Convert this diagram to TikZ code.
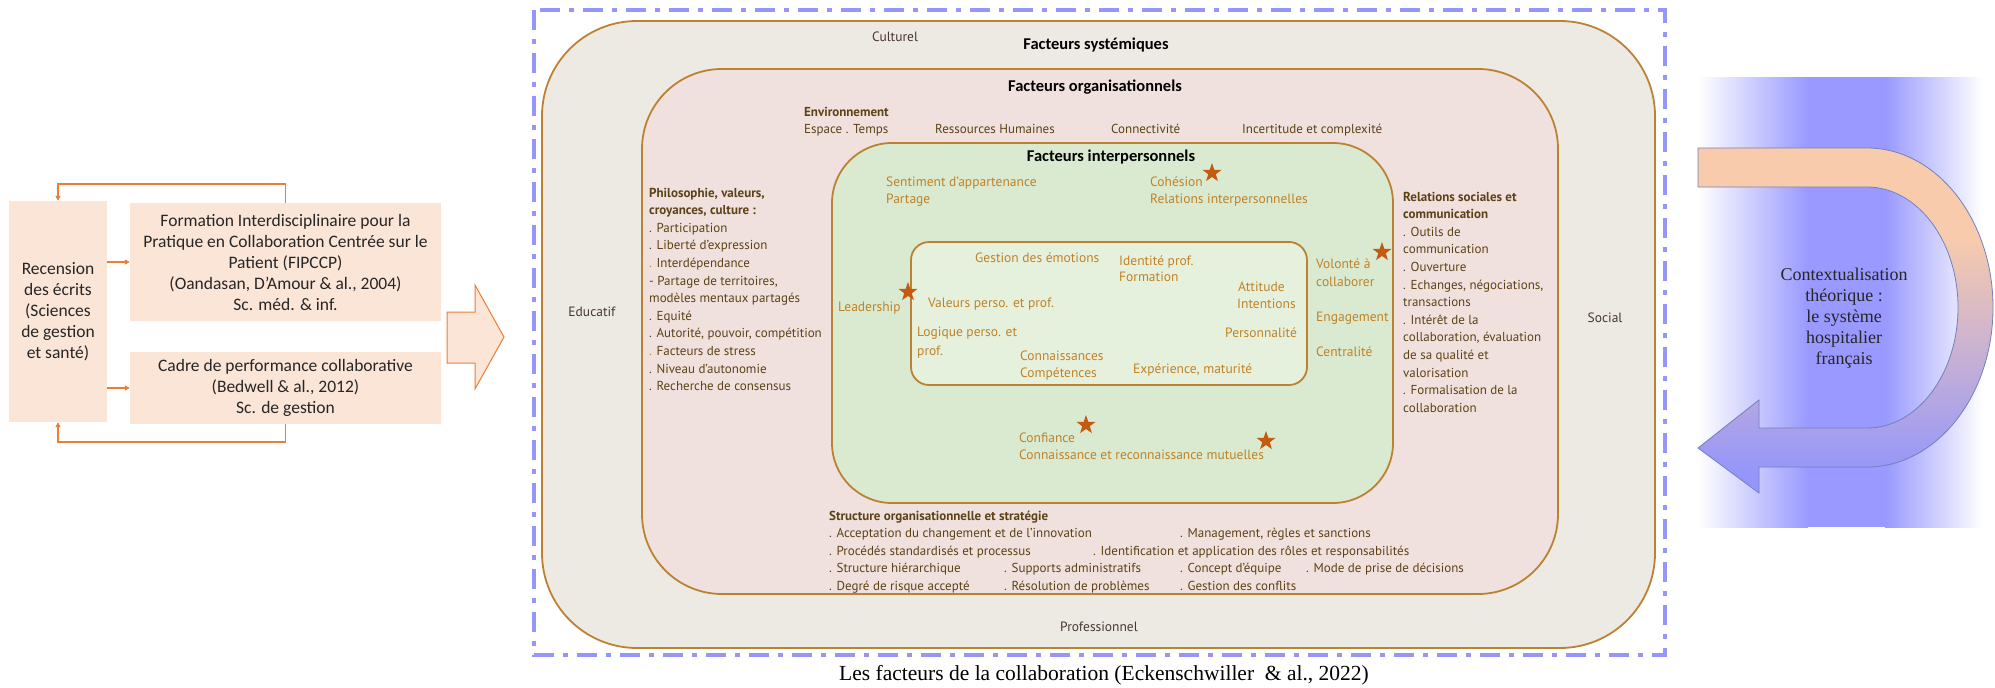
\documentclass[tikz,border=0pt]{standalone}
\usepackage{fontspec}
\setmainfont{PT Sans}
\newfontfamily\calfont{Carlito}
\newfontfamily\ptfont{PT Sans}
\newfontfamily\timesfont{Liberation Serif}
\usetikzlibrary{shapes.geometric,arrows.meta,calc}
\definecolor{outerF}{RGB}{237,234,228}
\definecolor{orgF}{RGB}{240,225,222}
\definecolor{intF}{RGB}{217,234,208}
\definecolor{innF}{RGB}{229,241,221}
\definecolor{edgeC}{RGB}{188,130,50}
\definecolor{brownT}{RGB}{92,66,22}
\definecolor{goldT}{RGB}{192,130,40}
\definecolor{labT}{RGB}{72,55,48}
\definecolor{starC}{RGB}{197,90,17}
\definecolor{frameC}{RGB}{150,150,250}
\definecolor{boxF}{RGB}{251,229,214}
\definecolor{arrC}{RGB}{237,125,49}
\definecolor{txtD}{RGB}{38,38,38}
\definecolor{bgB}{RGB}{153,153,255}
\definecolor{arrP}{RGB}{248,203,173}
\definecolor{arrB}{RGB}{150,150,250}
\definecolor{uedge}{RGB}{110,130,190}
\pgfdeclareverticalshading{uarrowshade}{100bp}{color(0bp)=(arrB); color(28bp)=(arrB); color(62bp)=(arrP); color(100bp)=(arrP)}
\begin{document}
\begin{tikzpicture}[x=1pt,y=-1pt,
  orgtxt/.style={anchor=base west, inner sep=0, text=brownT, font=\ptfont\fontsize{13}{15}\selectfont},
  orghead/.style={orgtxt, font=\ptfont\bfseries\fontsize{13}{15}\selectfont},
  goldtxt/.style={anchor=base west, inner sep=0, text=goldT, font=\ptfont\fontsize{13.5}{16}\selectfont},
  lab/.style={inner sep=0, text=labT, font=\ptfont\fontsize{13.5}{16}\selectfont},
  head/.style={inner sep=0, text=black, font=\calfont\bfseries\fontsize{16.5}{18}\selectfont},
  starmark/.style={star, star points=5, star point ratio=2.5, minimum size=20pt, inner sep=0, fill=starC},
  srcbox/.style={fill=boxF, inner sep=0, text=txtD, align=center, font=\calfont\fontsize{17.5}{21}\selectfont},
  arr/.style={draw=arrC, line width=1.3pt, -{Triangle[length=5pt,width=5pt]}},
  layer/.style={draw=edgeC, line width=1.8pt}
]
\useasboundingbox (0,0) rectangle (1995,688);

% ---------- left part ----------
\node[srcbox, minimum width=98, minimum height=221] (rec) at (58,311.5) {Recension\\des écrits\\(Sciences\\de gestion\\et santé)};
\node[srcbox, minimum width=311, minimum height=118] (fip) at (285.5,262) {Formation Interdisciplinaire pour la\\Pratique en Collaboration Centrée sur le\\Patient (FIPCCP)\\(Oandasan, D’Amour \& al., 2004)\\Sc. méd. \& inf.};
\node[srcbox, minimum width=311, minimum height=72] (cad) at (285.5,388) {Cadre de performance collaborative\\(Bedwell \& al., 2012)\\Sc. de gestion};
\coordinate (ft) at (58,184);
\coordinate (fb) at (58,442);
\draw[arr] (fip.north) |- (ft) -- (rec.north);
\draw[arr] (cad.south) |- (fb) -- (rec.south);
\draw[arr] (rec.east |- fip.west) -- (fip.west);
\draw[arr] (rec.east |- cad.west) -- (cad.west);
\draw[fill=boxF, draw=arrC, line width=1pt] (447,312) -- (475,312) -- (475,285) -- (504,337) -- (475,389) -- (475,363) -- (447,363) -- cycle;

% ---------- nested layers ----------
\draw[layer, fill=outerF, rounded corners=95pt] (542,21) rectangle (1655,648);
\draw[layer, fill=orgF, rounded corners=80pt] (642,69) rectangle (1558,594);
\draw[layer, fill=intF, rounded corners=60pt] (832,143) rectangle (1393,503);
\draw[layer, fill=innF, rounded corners=18pt] (911,242) rectangle (1307,385);

\node[lab] (cult) at (895,37) {Culturel};
\node[lab] (educ) at (592,312) {Educatif};
\node[lab] (soc) at (1605,318) {Social};
\node[lab] (prof) at (1099,627) {Professionnel};

\node[head] (hsys) at (1096,45) {Facteurs systémiques};
\node[head] (horg) at (1095,87) {Facteurs organisationnels};
\node[head] (hint) at (1111,157) {Facteurs interpersonnels};

% organisational factors
\node[orghead] (env) at (804,116) {Environnement};
\node[orgtxt] (env1) at (804,133) {Espace . Temps};
\node[orgtxt] (env2) at (935,133) {Ressources Humaines};
\node[orgtxt] (env3) at (1111,133) {Connectivité};
\node[orgtxt] (env4) at (1242,133) {Incertitude et complexité};

\node[orghead] (ph1) at (649,197) {Philosophie, valeurs,};
\node[orghead] (ph2) at (649,214.6) {croyances, culture :};
\foreach \t [count=\i] in {{. Participation},{. Liberté d’expression},{\textcolor{goldT}{.} Interdépendance},{- Partage de territoires,},{modèles mentaux partagés},{. Equité},{. Autorité, pouvoir, compétition},{\textcolor{goldT}{.} Facteurs de stress},{. Niveau d’autonomie},{. Recherche de consensus}}
  \node[orgtxt] (phl\i) at (649,{214.6+\i*17.6}) {\t};

\node[orghead] (rs1) at (1403,201) {Relations sociales et};
\node[orghead] (rs2) at (1403,218.6) {communication};
\foreach \t [count=\i] in {{. Outils de},{communication},{. Ouverture},{. Echanges, négociations,},{transactions},{. Intérêt de la},{collaboration, évaluation},{de sa qualité et},{valorisation},{. Formalisation de la},{collaboration}}
  \node[orgtxt] (rsl\i) at (1403,{218.6+\i*17.6}) {\t};

\node[orghead] (st0) at (829,520) {Structure organisationnelle et stratégie};
\node[orgtxt] (st1) at (829,537) {. Acceptation du changement et de l’innovation};
\node[orgtxt] (st2) at (1180,537) {. Management, règles et sanctions};
\node[orgtxt] (st3) at (829,555) {. Procédés standardisés et processus};
\node[orgtxt] (st4) at (1093,555) {. Identification et application des rôles et responsabilités};
\node[orgtxt] (st5) at (829,572) {. Structure hiérarchique};
\node[orgtxt] (st6) at (1004,572) {. Supports administratifs};
\node[orgtxt] (st7) at (1180,572) {. Concept d’équipe};
\node[orgtxt] (st8) at (1306,572) {. Mode de prise de décisions};
\node[orgtxt] (st9) at (829,590) {. Degré de risque accepté};
\node[orgtxt] (st10) at (1004,590) {. Résolution de problèmes};
\node[orgtxt] (st11) at (1180,590) {. Gestion des conflits};

% interpersonal factors
\node[goldtxt] (i1) at (886,186) {Sentiment d’appartenance};
\node[goldtxt] (i2) at (886,203) {Partage};
\node[goldtxt] (i3) at (1150,186) {Cohésion};
\node[goldtxt] (i4) at (1150,203) {Relations interpersonnelles};
\node[goldtxt] (i5) at (838,311) {Leadership};
\node[goldtxt] (i6) at (1316,268) {Volonté à};
\node[goldtxt] (i7) at (1316,286) {collaborer};
\node[goldtxt] (i8) at (1316,321) {Engagement};
\node[goldtxt] (i9) at (1316,356) {Centralité};
\node[goldtxt] (i10) at (1019,442) {Confiance};
\node[goldtxt] (i11) at (1019,459) {Connaissance et reconnaissance mutuelles};

\node[goldtxt] (n1) at (975,262) {Gestion des émotions};
\node[goldtxt] (n2) at (1119,265) {Identité prof.};
\node[goldtxt] (n3) at (1119,281) {Formation};
\node[goldtxt] (n4) at (1238,291) {Attitude};
\node[goldtxt] (n5) at (1237,308) {Intentions};
\node[goldtxt] (n6) at (928,307) {Valeurs perso. et prof.};
\node[goldtxt] (n7) at (917,336) {Logique perso. et};
\node[goldtxt] (n8) at (917,355) {prof.};
\node[goldtxt] (n9) at (1225,337) {Personnalité};
\node[goldtxt] (n10) at (1020,360) {Connaissances};
\node[goldtxt] (n11) at (1020,377) {Compétences};
\node[goldtxt] (n12) at (1133,373) {Expérience, maturité};

\node[starmark] (s1) at (1212,173) {};
\node[starmark] (s2) at (908,292) {};
\node[starmark] (s3) at (1382,252) {};
\node[starmark] (s4) at (1086,425) {};
\node[starmark] (s5) at (1266,441) {};

\draw[frameC, line width=3.5pt, dash pattern=on 20pt off 9pt on 5pt off 9pt] (534,10) rectangle (1665,655);

\node[inner sep=0, text=black, font=\timesfont\fontsize{21.5}{23}\selectfont] (cap) at (1104,675) {Les facteurs de la collaboration (Eckenschwiller~ \& al., 2022)};

% ---------- right part ----------
\shade[left color=white, right color=bgB] (1698,77) rectangle (1808,527);
\fill[bgB] (1808,77) rectangle (1885,527);
\shade[left color=bgB, right color=white] (1885,77) rectangle (1983,527);
\shadedraw[shading=uarrowshade, draw=uedge, line width=0.8pt]
 (1698,148) -- (1867,148)
 .. controls (1936.6,148) and (1993,219.4) .. (1993,307.5)
 .. controls (1993,395.6) and (1936.6,467) .. (1867,467)
 -- (1759,467) -- (1759,493) -- (1698,448) -- (1759,400) -- (1759,428) -- (1867,428)
 .. controls (1917.3,428) and (1958,374) .. (1958,307.5)
 .. controls (1958,241) and (1917.3,187) .. (1867,187)
 -- (1698,187) -- cycle;
\node[align=center, inner sep=0, text=black!85, font=\timesfont\fontsize{18}{21}\selectfont] (ctx) at (1844,318) {Contextualisation\\théorique :\\le système\\hospitalier\\français};
\end{tikzpicture}
\end{document}
